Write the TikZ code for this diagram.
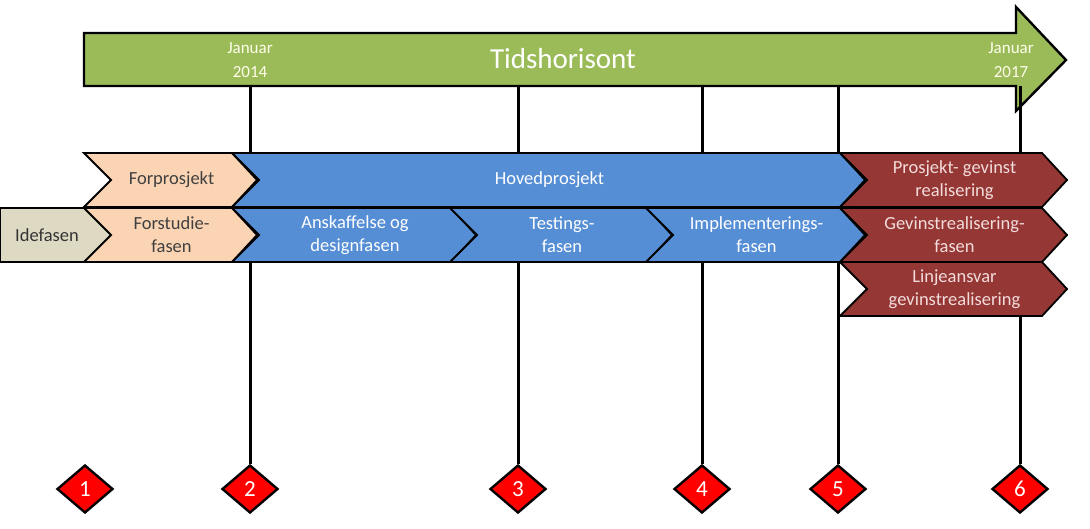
\documentclass[tikz,border=0pt]{standalone}
\usepackage{fontspec}
\setmainfont{Carlito}
\usetikzlibrary{shapes.geometric}
\definecolor{barGreen}{HTML}{9BBB59}
\definecolor{peach}{HTML}{FBD4B4}
\definecolor{hovedBlue}{HTML}{558ED5}
\definecolor{gevinstRed}{HTML}{953735}
\definecolor{ideGray}{HTML}{DDD9C3}
\definecolor{paleText}{HTML}{F2DCDB}
\tikzset{
    chev/.style={draw=black,line width=1.8pt,line join=miter},
    lbl/.style={align=center,font=\fontsize{18.5}{23}\selectfont,inner sep=0pt},
    milestone/.style={diamond,draw=black,line width=2.4pt,fill=red,text=white,
        minimum width=56pt,minimum height=48pt,inner sep=0pt,
        font=\fontsize{23}{23}\selectfont},
    tick/.style={line width=3pt,black},
}
% chevron: name, left, right, top, fill, text colour, text
\newcommand{\chevron}[7]{%
    \draw[chev,fill=#5] (#2,#4) -- ({#3-25},#4) -- (#3,{#4+27}) -- ({#3-25},{#4+54}) -- (#2,{#4+54}) -- ({#2+27},{#4+27}) -- cycle;
    \node[lbl,text=#6] (#1) at ({(#2+#3)/2+1},{#4+27}) {#7};
}

\begin{document}
\begin{tikzpicture}[x=1pt,y=-1pt]
\useasboundingbox (0,0) rectangle (1090,528);
% time bar
\draw[chev,line width=2.4pt,fill=barGreen] (84,33) -- (1016,33) -- (1016,7) -- (1066,60) -- (1016,111) -- (1016,86) -- (84,86) -- cycle;
\node[font=\fontsize{29}{29}\selectfont,text=white] (tids) at (563,59) {Tidshorisont};
\node[lbl,font=\fontsize{17}{24}\selectfont,text=white!92!yellow] (jan14) at (250,60) {Januar\\2014};
\node[lbl,font=\fontsize{17}{24}\selectfont,text=white!92!yellow] (jan17) at (1011,60) {Januar\\2017};
\coordinate (t2) at (250,86);
\coordinate (t3) at (518,86);
\coordinate (t4) at (702,86);
\coordinate (t5) at (838,86);
\coordinate (t6) at (1020,86);
% milestones
\node[milestone] (d1) at (85,489) {1};
\node[milestone] (d2) at (250,489) {2};
\node[milestone] (d3) at (518,489) {3};
\node[milestone] (d4) at (702,489) {4};
\node[milestone] (d5) at (838,489) {5};
\node[milestone] (d6) at (1020,489) {6};
\foreach \i in {2,...,6}
    \draw[tick] (t\i) -- (d\i.north);
% phases
\chevron{forprosjekt}{84}{257}{153}{peach}{black!75}{Forprosjekt}
\chevron{hovedprosjekt}{232}{865}{153}{hovedBlue}{white}{Hovedprosjekt}
\chevron{gevinst}{840}{1067}{153}{gevinstRed}{paleText}{Prosjekt- gevinst\\realisering}
\draw[chev,fill=ideGray] (0,208) -- (86,208) -- (113,235) -- (86,262) -- (0,262) -- cycle;
\node[lbl,text=black!80] (idefasen) at (47,235) {Idefasen};
\chevron{forstudie}{84}{257}{208}{peach}{black!75}{Forstudie-\\fasen}
\chevron{anskaffelse}{232}{476}{208}{hovedBlue}{white}{Anskaffelse og\\designfasen}
\chevron{testing}{450}{672}{208}{hovedBlue}{white}{Testings-\\fasen}
\chevron{implementering}{646}{865}{208}{hovedBlue}{white}{Implementerings-\\fasen}
\chevron{gevinstfase}{840}{1067}{208}{gevinstRed}{paleText}{Gevinstrealisering-\\fasen}
\chevron{linjeansvar}{840}{1067}{262}{gevinstRed}{paleText}{Linjeansvar\\gevinstrealisering}
\end{tikzpicture}
\end{document}
